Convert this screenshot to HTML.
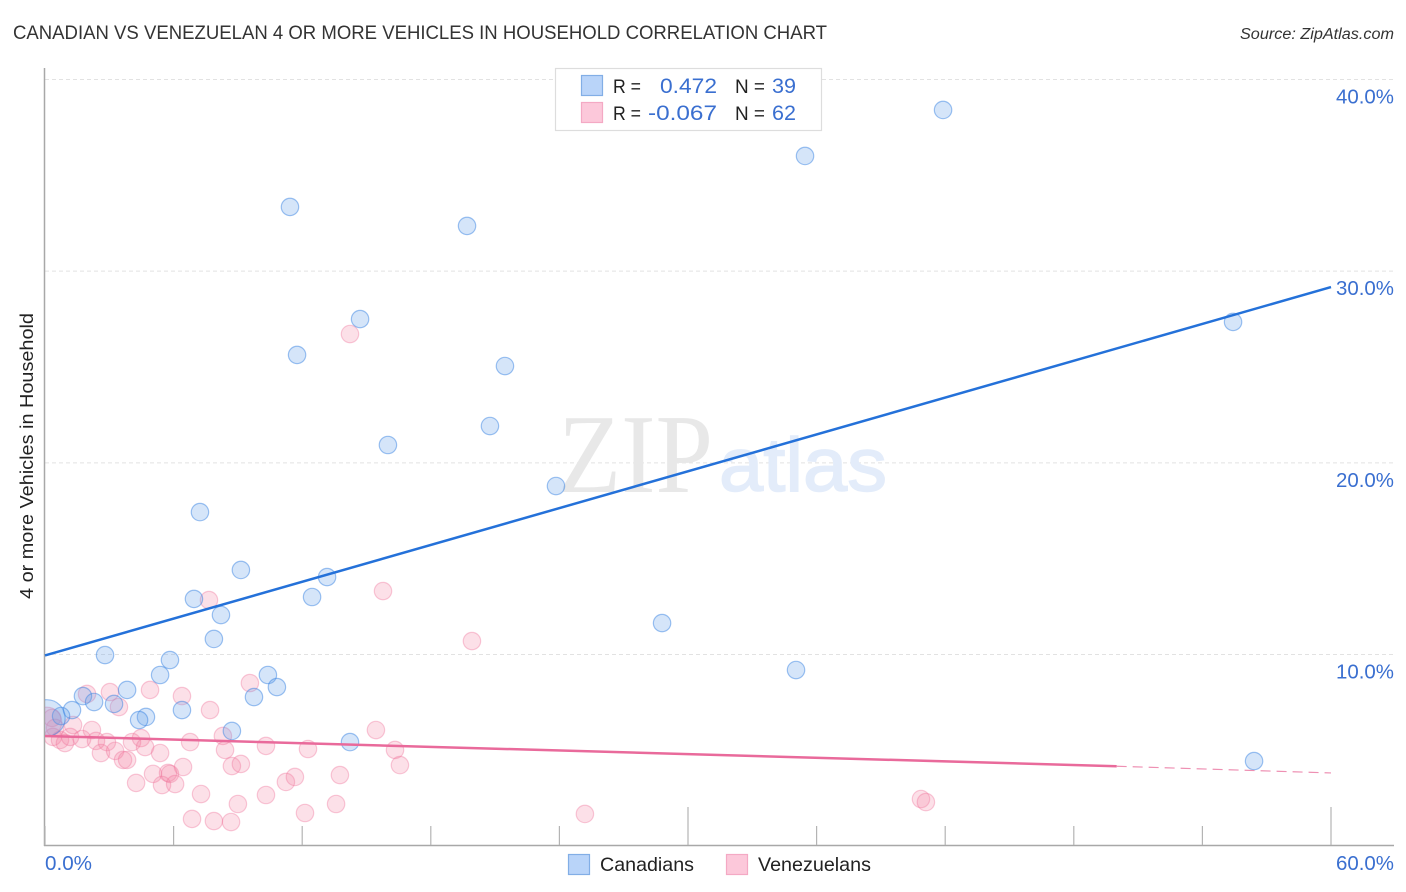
<!DOCTYPE html>
<html lang="en">
<head>
<meta charset="utf-8">
<title>Canadian vs Venezuelan 4 or more Vehicles in Household Correlation Chart</title>
<style>
  html, body { margin: 0; padding: 0; background: #fff; }
  svg { display: block; }
  text { font-family: "Liberation Sans", sans-serif; }
</style>
</head>
<body>
<svg id="chart" xmlns="http://www.w3.org/2000/svg" width="1406" height="892" viewBox="0 0 1406 892">
  <rect x="0" y="0" width="1406" height="892" fill="#ffffff"/>
  <defs>
    <clipPath id="plot-clip"><rect x="45" y="60" width="1349" height="785"/></clipPath>
  </defs>
  <text x="13" y="39" font-size="19" fill="#333333" textLength="814" lengthAdjust="spacingAndGlyphs">CANADIAN VS VENEZUELAN 4 OR MORE VEHICLES IN HOUSEHOLD CORRELATION CHART</text>
  <text x="1394" y="39" font-size="15.5" font-style="italic" fill="#333333" text-anchor="end" textLength="154" lengthAdjust="spacingAndGlyphs">Source: ZipAtlas.com</text>

  <g id="grid"></g>

  <g>
    <text x="558" y="492" font-size="112" fill="#e8e8e8" textLength="155" lengthAdjust="spacingAndGlyphs" style="font-family:'Liberation Serif',serif">ZIP</text>
    <text x="719" y="491" font-size="76" fill="#e3ecfa" stroke="#e3ecfa" stroke-width="1.5" textLength="168" lengthAdjust="spacingAndGlyphs">atlas</text>
  </g>

  <g id="axes"></g>
  <g id="points" clip-path="url(#plot-clip)"></g>
  <g id="trends"></g>
  <g id="tick-labels"></g>

  <text transform="translate(33,456) rotate(-90)" font-size="18.5" fill="#222222" text-anchor="middle" textLength="286" lengthAdjust="spacingAndGlyphs">4 or more Vehicles in Household</text>

  <g>
    <rect x="555.5" y="68.5" width="266" height="62" fill="#ffffff" stroke="#dddddd" stroke-width="1.2"/>
    <rect x="581.5" y="75.5" width="21" height="20" fill="#b9d4f9" stroke="#82aee6" stroke-width="1.2"/>
    <rect x="581.5" y="102.5" width="21" height="20" fill="#fcc8da" stroke="#f4a9c4" stroke-width="1.2"/>
    <text x="613" y="93" font-size="19" fill="#222222" textLength="28" lengthAdjust="spacingAndGlyphs">R =</text>
    <text x="717" y="93" font-size="21" fill="#3a6fd0" text-anchor="end" textLength="57" lengthAdjust="spacingAndGlyphs">0.472</text>
    <text x="735" y="93" font-size="19" fill="#222222" textLength="30" lengthAdjust="spacingAndGlyphs">N =</text>
    <text x="796" y="93" font-size="21" fill="#3a6fd0" text-anchor="end" textLength="24" lengthAdjust="spacingAndGlyphs">39</text>
    <text x="613" y="120" font-size="19" fill="#222222" textLength="28" lengthAdjust="spacingAndGlyphs">R =</text>
    <text x="717" y="120" font-size="21" fill="#3a6fd0" text-anchor="end" textLength="69" lengthAdjust="spacingAndGlyphs">-0.067</text>
    <text x="735" y="120" font-size="19" fill="#222222" textLength="30" lengthAdjust="spacingAndGlyphs">N =</text>
    <text x="796" y="120" font-size="21" fill="#3a6fd0" text-anchor="end" textLength="24" lengthAdjust="spacingAndGlyphs">62</text>
  </g>

  <g>
    <rect x="568.5" y="854.5" width="21" height="20" fill="#b9d4f9" stroke="#82aee6" stroke-width="1.2"/>
    <text x="600" y="871" font-size="19.5" fill="#222222" textLength="94" lengthAdjust="spacingAndGlyphs">Canadians</text>
    <rect x="726.5" y="854.5" width="21" height="20" fill="#fcc8da" stroke="#f4a9c4" stroke-width="1.2"/>
    <text x="758" y="871" font-size="19.5" fill="#222222" textLength="113" lengthAdjust="spacingAndGlyphs">Venezuelans</text>
  </g>
</svg>

<script>
const yTickValues = [10, 20, 30, 40];
const yTickLabels = ["10.0%", "20.0%", "30.0%", "40.0%"];
const xTickValues = [0, 6, 12, 18, 24, 30, 36, 42, 48, 54, 60];
const xMajorTicks = [30, 60];
const xEndLabels = ["0.0%", "60.0%"];

const canadianX = [41.90,35.46,11.43,19.69,14.70,55.43,11.76,21.46,20.76,16.00,23.84,7.23,9.14,13.16,12.46,6.95,8.21,28.79,7.88,2.80,5.83,35.04,5.37,10.40,10.82,3.83,1.77,9.75,2.29,3.22,6.39,1.26,0.75,4.71,4.39,8.72,14.23,56.41,0.09];
const canadianY = [38.41,36.01,33.35,32.36,27.50,27.35,25.63,25.05,21.92,20.93,18.79,17.43,14.41,14.04,13.00,12.90,12.06,11.64,10.81,9.97,9.71,9.19,8.93,8.93,8.30,8.15,7.83,7.78,7.52,7.42,7.10,7.10,6.79,6.74,6.58,6.01,5.43,4.44,6.69];
const canadianSize = [1,1,1,1,1,1,1,1,1,1,1,1,1,1,1,1,1,1,1,1,1,1,1,1,1,1,1,1,1,1,1,1,1,1,1,1,1,1,2.1];

const venezuelanX = [1.96,3.03,3.45,4.90,0.33,0.47,1.31,2.19,0.37,0.70,0.93,1.73,2.38,2.89,4.06,4.48,2.61,3.27,3.64,3.83,4.67,5.37,6.39,7.70,9.56,6.77,8.30,8.40,8.72,9.14,10.31,6.44,5.04,5.74,5.83,5.46,6.07,4.25,7.28,9.00,10.31,11.24,11.66,6.86,7.88,8.68,12.13,12.27,13.58,13.76,15.44,16.33,16.56,14.23,15.77,19.92,7.65,25.19,40.87,41.10,1.17,0.09];
const venezuelanY = [7.94,8.04,7.26,8.15,6.69,6.17,6.32,6.06,5.70,5.54,5.38,5.59,5.49,5.43,5.43,5.64,4.86,4.97,4.50,4.50,5.17,4.86,7.83,7.10,8.51,5.43,5.75,5.02,4.18,4.29,5.23,4.13,3.77,3.82,3.77,3.19,3.24,3.30,2.72,2.20,2.67,3.35,3.61,1.42,1.31,1.26,1.73,5.07,2.20,3.71,6.06,5.02,4.23,26.72,13.31,10.70,12.84,1.68,2.46,2.30,5.70,6.48];
const venezuelanSize = [1,1,1,1,1,1,1,1,1,1,1,1,1,1,1,1,1,1,1,1,1,1,1,1,1,1,1,1,1,1,1,1,1,1,1,1,1,1,1,1,1,1,1,1,1,1,1,1,1,1,1,1,1,1,1,1,1,1,1,1,1,1.7];

const canadianTrendX = [0, 60];
const canadianTrendY = [9.95, 29.17];
const venezuelanTrendX = [0, 50];
const venezuelanTrendY = [5.75, 4.17];
const venezuelanForecastX = [50, 60];
const venezuelanForecastY = [4.17, 3.82];

const SVGNS = "http://www.w3.org/2000/svg";
function xScale(v) { return 45 + v * (1286 / 60); }
function yScale(v) { return 846.17 - v * 19.167; }
function make(tag, attrs, parent) {
  const el = document.createElementNS(SVGNS, tag);
  for (const k in attrs) el.setAttribute(k, attrs[k]);
  parent.appendChild(el);
  return el;
}

const gridG = document.getElementById("grid");
const axesG = document.getElementById("axes");
const pointsG = document.getElementById("points");
const trendsG = document.getElementById("trends");
const labelsG = document.getElementById("tick-labels");

yTickValues.forEach(function (v, i) {
  const line = make("line", { x1: 45, x2: 1394, y1: yScale(v), y2: yScale(v), stroke: "#e2e2e2", "stroke-width": 1, "stroke-dasharray": "4 3" }, gridG);
  
  
  const t = make("text", { x: 1394, y: yScale(v) + 24, "font-size": 20.5, fill: "#3a6fd0", "text-anchor": "end", textLength: 58, lengthAdjust: "spacingAndGlyphs" }, labelsG);
  t.textContent = yTickLabels[i];
  
  
});

const yAxisLine = make("line", { x1: 44.5, x2: 44.5, y1: 68, y2: 846, stroke: "#a8a8a8", "stroke-width": 1.5 }, axesG);


const xAxisLine = make("line", { x1: 44, x2: 1394, y1: 845.5, y2: 845.5, stroke: "#a8a8a8", "stroke-width": 1.5 }, axesG);



xTickValues.forEach(function (v) {
  const top = xMajorTicks.indexOf(v) >= 0 ? 807 : 826;
  const tick = make("line", { x1: xScale(v), x2: xScale(v), y1: top, y2: 845, stroke: "#b4b4b4", "stroke-width": 1.2 }, axesG);
  
  
});

const xLabelLeft = make("text", { x: 45, y: 870, "font-size": 20.5, fill: "#3a6fd0", textLength: 47, lengthAdjust: "spacingAndGlyphs" }, labelsG);
xLabelLeft.textContent = xEndLabels[0];


const xLabelRight = make("text", { x: 1394, y: 870, "font-size": 20.5, fill: "#3a6fd0", "text-anchor": "end", textLength: 58, lengthAdjust: "spacingAndGlyphs" }, labelsG);
xLabelRight.textContent = xEndLabels[1];



venezuelanX.forEach(function (v, i) {
  const c = make("circle", { cx: xScale(v), cy: yScale(venezuelanY[i]), r: 8.7 * venezuelanSize[i], fill: "rgba(245,130,165,0.25)", stroke: "rgba(238,115,155,0.38)", "stroke-width": 1.2 }, pointsG);
  
  
});
canadianX.forEach(function (v, i) {
  const c = make("circle", { cx: xScale(v), cy: yScale(canadianY[i]), r: 8.7 * canadianSize[i], fill: "rgba(105,160,235,0.28)", stroke: "rgba(55,130,225,0.48)", "stroke-width": 1.2 }, pointsG);
  
  
});

const canadianTrend = make("line", { x1: xScale(canadianTrendX[0]), x2: xScale(canadianTrendX[1]), y1: yScale(canadianTrendY[0]), y2: yScale(canadianTrendY[1]), stroke: "#2471d9", "stroke-width": 2.5 }, trendsG);


const venezuelanTrend = make("line", { x1: xScale(venezuelanTrendX[0]), x2: xScale(venezuelanTrendX[1]), y1: yScale(venezuelanTrendY[0]), y2: yScale(venezuelanTrendY[1]), stroke: "#e96a9b", "stroke-width": 2.5 }, trendsG);


const venezuelanForecast = make("line", { x1: xScale(venezuelanForecastX[0]), x2: xScale(venezuelanForecastX[1]), y1: yScale(venezuelanForecastY[0]), y2: yScale(venezuelanForecastY[1]), stroke: "#ee90b3", "stroke-width": 1.2, "stroke-dasharray": "10 6" }, trendsG);


</script>
</body>
</html>
